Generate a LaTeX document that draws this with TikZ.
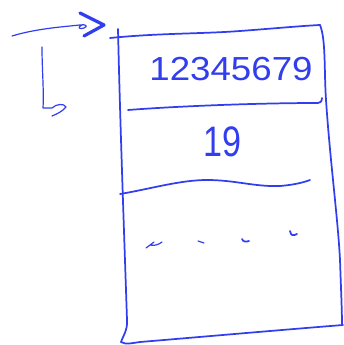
\documentclass[tikz,border=0pt]{standalone}
\usepackage{fontspec}
\setmainfont{Liberation Sans}
\definecolor{ink}{RGB}{50,62,238}
\begin{document}
\begin{tikzpicture}[x=0.75pt,y=-0.75pt,
  pen/.style={draw=ink,line width=1.3pt,line cap=round,line join=round},
  thin pen/.style={draw=ink,line width=0.9pt,line cap=round,line join=round},
  thick pen/.style={draw=ink,line width=2.4pt,line cap=round,line join=round},
  hand/.style={text=ink,inner sep=0pt}]
\useasboundingbox (0,0) rectangle (343,345);
% incoming arrow
\draw[thin pen] (12,36) .. controls (35,29) and (60,27) .. (80,25)
  .. controls (85,24) and (89,26) .. (84,28) .. controls (79,30) and (77,27) .. (82,25);
\draw[thick pen] (80,13) -- (104,25) -- (84,36);
% L-shaped pointer
\draw[thin pen] (42,47) .. controls (42,70) and (44,90) .. (43,108) -- (52,108)
  .. controls (56,104) and (64,103) .. (66,107) .. controls (63,111) and (57,114) .. (52,116);
% box
\draw[pen] (110,38) .. controls (160,33) and (200,34) .. (240,31) .. controls (280,28) and (300,26) .. (320,25);
\draw[pen] (118,29) .. controls (120,120) and (124,230) .. (127,320)
  .. controls (128,330) and (122,338) .. (121,342) .. controls (126,345) and (132,343) .. (140,342)
  .. controls (200,337) and (280,330) .. (343,325);
\draw[pen] (320,25) .. controls (326,40) and (324,70) .. (326,100)
  .. controls (330,160) and (338,220) .. (340,260) .. controls (341,290) and (342,310) .. (342,325);
% texts
\node[hand,font=\fontsize{25}{25}\selectfont,xscale=1.1] (num) at (231,69) {12345679};
\draw[pen] (128,110) .. controls (180,106) and (260,103) .. (318,103) .. controls (322,102) and (322,100) .. (322,98);
\node[hand,font=\fontsize{32}{32}\selectfont,xscale=0.8] (res) at (222,142) {19};
% wavy divider
\draw[pen] (120,194) .. controls (150,189) and (180,180) .. (207,180)
  .. controls (235,180) and (255,187) .. (280,186) .. controls (292,185) and (302,183) .. (310,180);
% dots
\draw[thin pen] (146,248) -- (154,242) (150,245) .. controls (154,246) and (158,245) .. (162,242);
\draw[thin pen] (198,241) -- (204,243);
\draw[pen] (242,239) .. controls (243,242) and (246,242) .. (249,241);
\draw[pen] (290,231) .. controls (291,236) and (293,236) .. (297,234);
\end{tikzpicture}
\end{document}
